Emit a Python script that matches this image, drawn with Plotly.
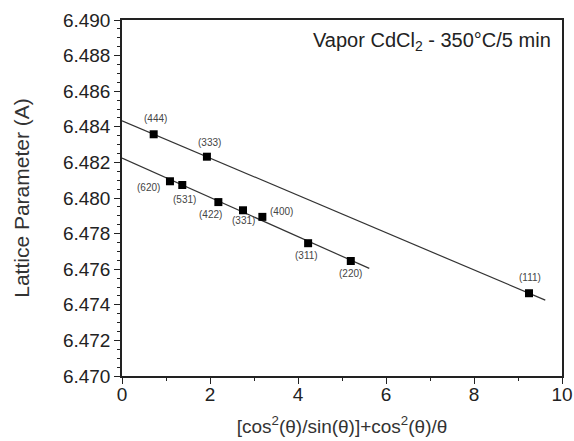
import numpy as np
import plotly.graph_objects as go

# Data
upper_labels = ["(444)", "(333)", "(111)"]
upper_x = [0.72, 1.93, 9.25]
upper_y = [6.48358, 6.48232, 6.47465]

lower_labels = ["(620)", "(531)", "(422)", "(331)", "(400)", "(311)", "(220)"]
lower_x = [1.09, 1.37, 2.19, 2.75, 3.19, 4.23, 5.20]
lower_y = [6.48094, 6.48073, 6.47977, 6.47931, 6.47894, 6.47746, 6.47646]

upper_fit_span = [0.0, 9.62]
lower_fit_span = [0.0, 5.62]

x_ticks = [0, 2, 4, 6, 8, 10]
y_ticks = [6.470, 6.472, 6.474, 6.476, 6.478, 6.480, 6.482, 6.484, 6.486, 6.488, 6.490]

# label offsets (pixels) relative to the marker
label_offsets = {
    "(444)": (2, 16), "(333)": (3, 14), "(111)": (1, 16),
    "(620)": (-21, -6), "(531)": (2, -14), "(422)": (-8, -12),
    "(331)": (0, -10), "(400)": (19, 5), "(311)": (-2, -12), "(220)": (0, -12),
}

FONT = "Liberation Sans, Arial, sans-serif"
fig = go.Figure()

for xs, ys, span in [(upper_x, upper_y, upper_fit_span), (lower_x, lower_y, lower_fit_span)]:
    k, b = np.polyfit(xs, ys, 1)
    fx = np.array(span)
    fig.add_trace(go.Scatter(x=fx, y=k * fx + b, mode="lines",
                             line=dict(color="#333333", width=1.2), showlegend=False,
                             hoverinfo="skip"))

fig.add_trace(go.Scatter(x=upper_x + lower_x, y=upper_y + lower_y, mode="markers",
                         marker=dict(symbol="square", size=8, color="black"),
                         showlegend=False))

for labs, xs, ys in [(upper_labels, upper_x, upper_y), (lower_labels, lower_x, lower_y)]:
    for lab, x, y in zip(labs, xs, ys):
        dx, dy = label_offsets[lab]
        fig.add_annotation(x=x, y=y, text=lab, showarrow=False, xshift=dx, yshift=dy,
                           font=dict(family=FONT, size=10, color="#444444"))

fig.add_annotation(xref="paper", yref="paper", x=1, y=1, xanchor="right", yanchor="top",
                   xshift=-9, yshift=-7, showarrow=False,
                   text="Vapor CdCl<sub>2</sub> - 350°C/5 min",
                   font=dict(family=FONT, size=20, color="#222222"))

axis_common = dict(showline=True, linecolor="#222222", linewidth=1.5, mirror=True,
                   ticks="outside", ticklen=6, tickwidth=1.2, tickcolor="#222222",
                   showgrid=False, zeroline=False, automargin=False,
                   tickfont=dict(family=FONT, size=19, color="#222222"))

fig.update_xaxes(range=[0, 10], tickvals=x_ticks, ticktext=[str(v) for v in x_ticks],
                 minor=dict(dtick=1, ticks="outside", ticklen=3, tickcolor="#222222"),
                 ticklabelstandoff=-6,
                 title=dict(text="[cos<sup>2</sup>(θ)/sin(θ)]+cos<sup>2</sup>(θ)/θ",
                            font=dict(family=FONT, size=19, color="#333333"), standoff=16),
                 **axis_common)
fig.update_yaxes(range=[6.470, 6.490], tickvals=y_ticks, ticktext=[f"{v:.3f}" for v in y_ticks],
                 minor=dict(dtick=0.0005, ticks="outside", ticklen=3, tickcolor="#222222"),
                 title=dict(text="Lattice Parameter (A)",
                            font=dict(family=FONT, size=21, color="#333333"), standoff=28),
                 **axis_common)

fig.update_layout(width=574, height=441, margin=dict(l=122, r=12, t=20, b=65),
                  plot_bgcolor="white", paper_bgcolor="white")

fig.write_html("out.html", post_script="document.body.style.margin='0';",
               config={"displayModeBar": False})
